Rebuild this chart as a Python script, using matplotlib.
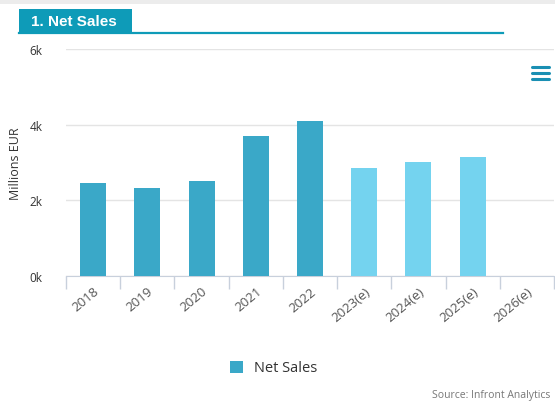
import numpy as np
import matplotlib.pyplot as plt
from matplotlib.patches import Rectangle
from matplotlib.lines import Line2D

plt.rcParams['font.family'] = ['Open Sans', 'DejaVu Sans']

years = ['2018', '2019', '2020', '2021', '2022', '2023(e)', '2024(e)', '2025(e)', '2026(e)']
sales = [2470, 2330, 2510, 3710, 4100, 2860, 3010, 3150, np.nan]
estimate = [False, False, False, False, False, True, True, True, True]
yticks = [0, 2000, 4000, 6000]
ylabels = ['0k', '2k', '4k', '6k']

W, H = 555, 402
fig = plt.figure(figsize=(W / 100, H / 100), dpi=100)
fig.patch.set_facecolor('white')

def fx(px):
    return px / W

def fy(py):
    return 1 - py / H

# top grey strip
fig.add_artist(Rectangle((0, fy(5)), 1, 5 / H, transform=fig.transFigure,
                         color='#ececec', lw=0))
# title tab
fig.add_artist(Rectangle((fx(19), fy(35)), fx(113), 25 / H, transform=fig.transFigure,
                         color='#0e9bb8', lw=0))
fig.add_artist(Line2D([fx(19), fx(503)], [fy(34), fy(34)], transform=fig.transFigure,
                      color='#0e9bb8', lw=1.6))
fig.text(fx(31), fy(22), '1. Net Sales', color='white', fontsize=11,
         fontweight='bold', va='center', ha='left', family=['Liberation Sans', 'DejaVu Sans'])

# hamburger icon
for yy in [68, 74, 80]:
    fig.add_artist(Line2D([fx(532), fx(549)], [fy(yy), fy(yy)], transform=fig.transFigure,
                          color='#1a8fb3', lw=2.2, solid_capstyle='round'))

ax = fig.add_axes([fx(66), fy(277), fx(554 - 66), (277 - 50) / H])
x = np.arange(len(years))
colors = ['#74d3ef' if e else '#3aa8c8' for e in estimate]
ax.bar(x, sales, width=0.48, color=colors, zorder=3)

ax.set_xlim(-0.5, len(years) - 0.5)
ax.set_ylim(0, 6000)
ax.set_yticks(yticks)
ax.set_yticklabels(ylabels, fontsize=8.5, color='#333333')
ax.yaxis.grid(True, color='#e4e4e4', lw=1, zorder=0)
ax.tick_params(axis='y', length=0, pad=17)

ax.set_xticks(x)
ax.set_xticklabels(years, rotation=40, ha='right', rotation_mode='anchor',
                   fontsize=9.5, color='#555555')
ax.set_xticks(np.arange(len(years) + 1) - 0.5, minor=True)
ax.tick_params(axis='x', which='major', length=0, pad=6)
ax.tick_params(axis='x', which='minor', length=9, color='#c8d0dc', width=1)

for s in ['top', 'right', 'left']:
    ax.spines[s].set_visible(False)
ax.spines['bottom'].set_color('#c8d0dc')

ax.set_ylabel('Millions EUR', fontsize=9, color='#333333', labelpad=5)

# legend
fig.add_artist(Rectangle((fx(230), fy(374)), fx(13), 12 / H, transform=fig.transFigure,
                         color='#3aa8c8', lw=0))
fig.text(fx(254), fy(368), 'Net Sales', fontsize=10.5, color='#333333', va='center')

fig.text(fx(550), fy(396), 'Source: Infront Analytics', fontsize=7.5, color='#777777',
         ha='right', va='center')

fig.savefig('out.png', dpi=100)
